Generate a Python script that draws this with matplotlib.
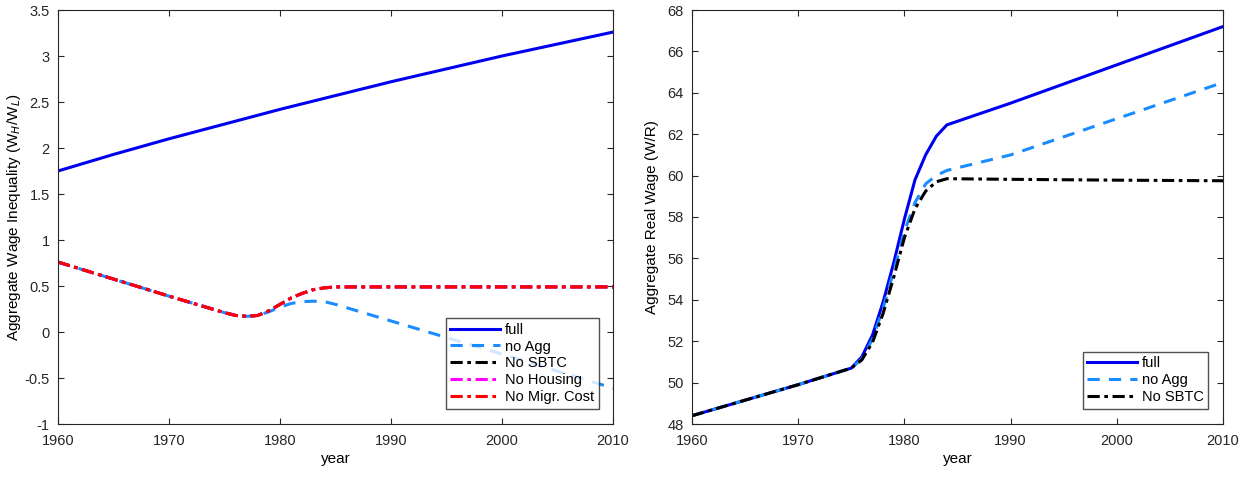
import numpy as np
import matplotlib.pyplot as plt

plt.rcParams['font.family'] = ['Liberation Sans', 'DejaVu Sans']
plt.rcParams['font.size'] = 10

# left panel: aggregate wage inequality
yr_full = [1960, 1965, 1970, 1975, 1980, 1985, 1990, 1995, 2000, 2005, 2010]
ineq_full = [1.75, 1.93, 2.10, 2.26, 2.42, 2.57, 2.72, 2.86, 3.00, 3.13, 3.26]

yr_cf = [1960, 1965, 1970, 1975, 1976, 1977, 1978, 1979, 1980, 1981, 1982,
         1983, 1984, 1985, 1990, 2000, 2010]
ineq_sbtc = [0.76, 0.575, 0.39, 0.21, 0.18, 0.17, 0.18, 0.23, 0.30, 0.37, 0.42,
             0.46, 0.48, 0.49, 0.49, 0.49, 0.49]
ineq_house = ineq_sbtc
ineq_migr = ineq_sbtc

yr_noagg = [1960, 1965, 1970, 1975, 1976, 1977, 1978, 1979, 1980, 1981, 1982,
            1983, 1984, 1985, 1990, 2000, 2010]
ineq_noagg = [0.76, 0.575, 0.39, 0.21, 0.18, 0.17, 0.18, 0.22, 0.27, 0.31, 0.33,
              0.335, 0.33, 0.30, 0.12, -0.24, -0.61]

# right panel: aggregate real wage
yr_w = [1960, 1965, 1970, 1975, 1976, 1977, 1978, 1979, 1980, 1981, 1982,
        1983, 1984, 1990, 2000, 2010]
wage_full = [48.4, 49.15, 49.9, 50.7, 51.25, 52.3, 53.9, 55.8, 57.9, 59.8, 61.0,
             61.9, 62.45, 63.5, 65.35, 67.2]
wage_noagg = [48.4, 49.15, 49.9, 50.7, 51.15, 52.1, 53.6, 55.4, 57.3, 58.7, 59.6,
              60.0, 60.25, 61.0, 62.75, 64.5]
wage_sbtc = [48.4, 49.15, 49.9, 50.7, 51.1, 51.95, 53.35, 55.1, 57.0, 58.4, 59.25,
             59.7, 59.85, 59.82, 59.78, 59.75]

c_full = '#0000f0'
c_noagg = '#1a8cff'
dashdot = (0, (4, 1.5, 1.2, 1.5))

fig = plt.figure(figsize=(12.49, 4.78), dpi=100)
ax1 = fig.add_axes([58/1249, 54/478, 555/1249, 414/478])
ax2 = fig.add_axes([692/1249, 54/478, 531/1249, 414/478])

ax1.plot(yr_full, ineq_full, color=c_full, lw=2.2, label='full')
ax1.plot(yr_noagg, ineq_noagg, color=c_noagg, lw=2.2, ls=(0, (4, 3)), label='no Agg')
ax1.plot(yr_cf, ineq_sbtc, color='black', lw=2.2, ls=dashdot, label='No SBTC')
ax1.plot(yr_cf, ineq_house, color='#ff00ff', lw=2.2, ls=dashdot, label='No Housing')
ax1.plot(yr_cf, ineq_migr, color='#ff0000', lw=2.2, ls=dashdot, label='No Migr. Cost')
ax1.set_xlim(1960, 2010)
ax1.set_ylim(-1, 3.5)
ax1.set_yticks(np.arange(-1, 3.51, 0.5))
ax1.set_yticklabels(['-1', '-0.5', '0', '0.5', '1', '1.5', '2', '2.5', '3', '3.5'])
ax1.set_xlabel('year', fontsize=11, labelpad=3)
ax1.set_ylabel(r'Aggregate Wage Inequality (W$_H$/W$_L$)', fontsize=11, labelpad=1)
ax1.legend(loc='lower right', bbox_to_anchor=(0.974, 0.037), fontsize=10.5,
           frameon=True, fancybox=False, edgecolor='#262626', handlelength=3.4,
           handletextpad=0.35, borderpad=0.3, labelspacing=0.2, borderaxespad=0)

ax2.plot(yr_w, wage_full, color=c_full, lw=2.2, label='full')
ax2.plot(yr_w, wage_noagg, color=c_noagg, lw=2.2, ls=(0, (4, 3)), label='no Agg')
ax2.plot(yr_w, wage_sbtc, color='black', lw=2.2, ls=dashdot, label='No SBTC')
ax2.set_xlim(1960, 2010)
ax2.set_ylim(48, 68)
ax2.set_yticks(np.arange(48, 68.1, 2))
ax2.set_xlabel('year', fontsize=11, labelpad=3)
ax2.set_ylabel('Aggregate Real Wage (W/R)', fontsize=11, labelpad=6)
ax2.legend(loc='lower right', bbox_to_anchor=(0.972, 0.037), fontsize=10.5,
           frameon=True, fancybox=False, edgecolor='#262626', handlelength=3.4,
           handletextpad=0.35, borderpad=0.3, labelspacing=0.2, borderaxespad=0)

for ax in (ax1, ax2):
    ax.set_xticks(np.arange(1960, 2011, 10))
    ax.tick_params(direction='in', top=True, right=True, colors='#262626',
                   labelsize=10.5, length=4)
    ax.tick_params(axis='x', pad=7)
    ax.tick_params(axis='y', pad=6)
    for s in ax.spines.values():
        s.set_color('#262626')
        s.set_linewidth(0.8)

fig.savefig('out.png', dpi=100)
